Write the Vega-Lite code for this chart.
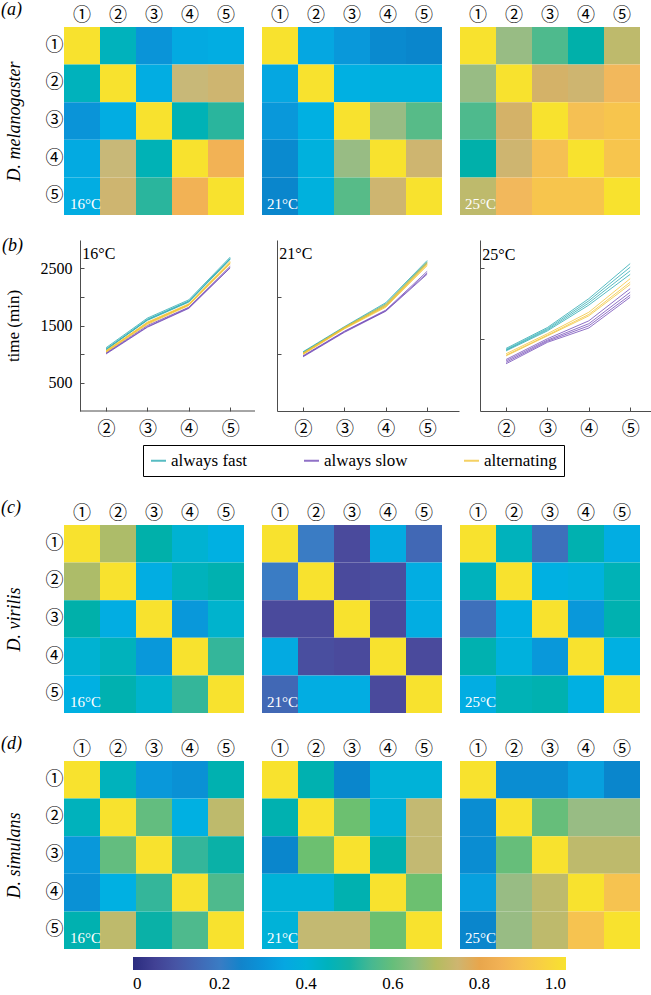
{
"$schema": "https://vega.github.io/schema/vega-lite/v6.json",
"background": "white",
"padding": {"left": 1, "top": 1, "right": 0, "bottom": 0},
"datasets": {
"a16": [{"c":1,"r":1,"v":1},{"c":2,"r":1,"v":0.45},{"c":3,"r":1,"v":0.30},{"c":4,"r":1,"v":0.36},{"c":5,"r":1,"v":0.37},
{"c":1,"r":2,"v":0.45},{"c":2,"r":2,"v":1},{"c":3,"r":2,"v":0.37},{"c":4,"r":2,"v":0.74},{"c":5,"r":2,"v":0.75},
{"c":1,"r":3,"v":0.30},{"c":2,"r":3,"v":0.37},{"c":3,"r":3,"v":1},{"c":4,"r":3,"v":0.46},{"c":5,"r":3,"v":0.52},
{"c":1,"r":4,"v":0.36},{"c":2,"r":4,"v":0.74},{"c":3,"r":4,"v":0.46},{"c":4,"r":4,"v":1},{"c":5,"r":4,"v":0.85},
{"c":1,"r":5,"v":0.37},{"c":2,"r":5,"v":0.75},{"c":3,"r":5,"v":0.52},{"c":4,"r":5,"v":0.85},{"c":5,"r":5,"v":1}],
"a21": [{"c":1,"r":1,"v":1},{"c":2,"r":1,"v":0.35},{"c":3,"r":1,"v":0.31},{"c":4,"r":1,"v":0.27},{"c":5,"r":1,"v":0.26},
{"c":1,"r":2,"v":0.35},{"c":2,"r":2,"v":1},{"c":3,"r":2,"v":0.38},{"c":4,"r":2,"v":0.39},{"c":5,"r":2,"v":0.39},
{"c":1,"r":3,"v":0.31},{"c":2,"r":3,"v":0.38},{"c":3,"r":3,"v":1},{"c":4,"r":3,"v":0.66},{"c":5,"r":3,"v":0.57},
{"c":1,"r":4,"v":0.27},{"c":2,"r":4,"v":0.39},{"c":3,"r":4,"v":0.66},{"c":4,"r":4,"v":1},{"c":5,"r":4,"v":0.75},
{"c":1,"r":5,"v":0.26},{"c":2,"r":5,"v":0.39},{"c":3,"r":5,"v":0.57},{"c":4,"r":5,"v":0.75},{"c":5,"r":5,"v":1}],
"a25": [{"c":1,"r":1,"v":1},{"c":2,"r":1,"v":0.66},{"c":3,"r":1,"v":0.56},{"c":4,"r":1,"v":0.48},{"c":5,"r":1,"v":0.72},
{"c":1,"r":2,"v":0.66},{"c":2,"r":2,"v":1},{"c":3,"r":2,"v":0.76},{"c":4,"r":2,"v":0.75},{"c":5,"r":2,"v":0.86},
{"c":1,"r":3,"v":0.56},{"c":2,"r":3,"v":0.76},{"c":3,"r":3,"v":1},{"c":4,"r":3,"v":0.89},{"c":5,"r":3,"v":0.91},
{"c":1,"r":4,"v":0.48},{"c":2,"r":4,"v":0.75},{"c":3,"r":4,"v":0.89},{"c":4,"r":4,"v":1},{"c":5,"r":4,"v":0.91},
{"c":1,"r":5,"v":0.72},{"c":2,"r":5,"v":0.86},{"c":3,"r":5,"v":0.91},{"c":4,"r":5,"v":0.91},{"c":5,"r":5,"v":1}],
"c16": [{"c":1,"r":1,"v":1},{"c":2,"r":1,"v":0.69},{"c":3,"r":1,"v":0.48},{"c":4,"r":1,"v":0.41},{"c":5,"r":1,"v":0.38},
{"c":1,"r":2,"v":0.69},{"c":2,"r":2,"v":1},{"c":3,"r":2,"v":0.37},{"c":4,"r":2,"v":0.45},{"c":5,"r":2,"v":0.47},
{"c":1,"r":3,"v":0.48},{"c":2,"r":3,"v":0.37},{"c":3,"r":3,"v":1},{"c":4,"r":3,"v":0.31},{"c":5,"r":3,"v":0.42},
{"c":1,"r":4,"v":0.41},{"c":2,"r":4,"v":0.45},{"c":3,"r":4,"v":0.31},{"c":4,"r":4,"v":1},{"c":5,"r":4,"v":0.53},
{"c":1,"r":5,"v":0.38},{"c":2,"r":5,"v":0.47},{"c":3,"r":5,"v":0.42},{"c":4,"r":5,"v":0.53},{"c":5,"r":5,"v":1}],
"c21": [{"c":1,"r":1,"v":1},{"c":2,"r":1,"v":0.20},{"c":3,"r":1,"v":0.07},{"c":4,"r":1,"v":0.36},{"c":5,"r":1,"v":0.15},
{"c":1,"r":2,"v":0.20},{"c":2,"r":2,"v":1},{"c":3,"r":2,"v":0.07},{"c":4,"r":2,"v":0.08},{"c":5,"r":2,"v":0.37},
{"c":1,"r":3,"v":0.07},{"c":2,"r":3,"v":0.07},{"c":3,"r":3,"v":1},{"c":4,"r":3,"v":0.07},{"c":5,"r":3,"v":0.37},
{"c":1,"r":4,"v":0.36},{"c":2,"r":4,"v":0.08},{"c":3,"r":4,"v":0.07},{"c":4,"r":4,"v":1},{"c":5,"r":4,"v":0.07},
{"c":1,"r":5,"v":0.15},{"c":2,"r":5,"v":0.37},{"c":3,"r":5,"v":0.37},{"c":4,"r":5,"v":0.07},{"c":5,"r":5,"v":1}],
"c25": [{"c":1,"r":1,"v":1},{"c":2,"r":1,"v":0.45},{"c":3,"r":1,"v":0.17},{"c":4,"r":1,"v":0.47},{"c":5,"r":1,"v":0.37},
{"c":1,"r":2,"v":0.45},{"c":2,"r":2,"v":1},{"c":3,"r":2,"v":0.38},{"c":4,"r":2,"v":0.39},{"c":5,"r":2,"v":0.46},
{"c":1,"r":3,"v":0.17},{"c":2,"r":3,"v":0.38},{"c":3,"r":3,"v":1},{"c":4,"r":3,"v":0.31},{"c":5,"r":3,"v":0.47},
{"c":1,"r":4,"v":0.47},{"c":2,"r":4,"v":0.39},{"c":3,"r":4,"v":0.31},{"c":4,"r":4,"v":1},{"c":5,"r":4,"v":0.38},
{"c":1,"r":5,"v":0.37},{"c":2,"r":5,"v":0.46},{"c":3,"r":5,"v":0.47},{"c":4,"r":5,"v":0.38},{"c":5,"r":5,"v":1}],
"d16": [{"c":1,"r":1,"v":1},{"c":2,"r":1,"v":0.45},{"c":3,"r":1,"v":0.31},{"c":4,"r":1,"v":0.29},{"c":5,"r":1,"v":0.47},
{"c":1,"r":2,"v":0.45},{"c":2,"r":2,"v":1},{"c":3,"r":2,"v":0.59},{"c":4,"r":2,"v":0.38},{"c":5,"r":2,"v":0.72},
{"c":1,"r":3,"v":0.31},{"c":2,"r":3,"v":0.59},{"c":3,"r":3,"v":1},{"c":4,"r":3,"v":0.53},{"c":5,"r":3,"v":0.49},
{"c":1,"r":4,"v":0.29},{"c":2,"r":4,"v":0.38},{"c":3,"r":4,"v":0.53},{"c":4,"r":4,"v":1},{"c":5,"r":4,"v":0.56},
{"c":1,"r":5,"v":0.47},{"c":2,"r":5,"v":0.72},{"c":3,"r":5,"v":0.49},{"c":4,"r":5,"v":0.56},{"c":5,"r":5,"v":1}],
"d21": [{"c":1,"r":1,"v":1},{"c":2,"r":1,"v":0.47},{"c":3,"r":1,"v":0.26},{"c":4,"r":1,"v":0.40},{"c":5,"r":1,"v":0.40},
{"c":1,"r":2,"v":0.47},{"c":2,"r":2,"v":1},{"c":3,"r":2,"v":0.62},{"c":4,"r":2,"v":0.40},{"c":5,"r":2,"v":0.73},
{"c":1,"r":3,"v":0.26},{"c":2,"r":3,"v":0.62},{"c":3,"r":3,"v":1},{"c":4,"r":3,"v":0.47},{"c":5,"r":3,"v":0.73},
{"c":1,"r":4,"v":0.40},{"c":2,"r":4,"v":0.40},{"c":3,"r":4,"v":0.47},{"c":4,"r":4,"v":1},{"c":5,"r":4,"v":0.62},
{"c":1,"r":5,"v":0.40},{"c":2,"r":5,"v":0.73},{"c":3,"r":5,"v":0.73},{"c":4,"r":5,"v":0.62},{"c":5,"r":5,"v":1}],
"d25": [{"c":1,"r":1,"v":1},{"c":2,"r":1,"v":0.28},{"c":3,"r":1,"v":0.28},{"c":4,"r":1,"v":0.33},{"c":5,"r":1,"v":0.26},
{"c":1,"r":2,"v":0.28},{"c":2,"r":2,"v":1},{"c":3,"r":2,"v":0.60},{"c":4,"r":2,"v":0.66},{"c":5,"r":2,"v":0.66},
{"c":1,"r":3,"v":0.28},{"c":2,"r":3,"v":0.60},{"c":3,"r":3,"v":1},{"c":4,"r":3,"v":0.72},{"c":5,"r":3,"v":0.72},
{"c":1,"r":4,"v":0.33},{"c":2,"r":4,"v":0.66},{"c":3,"r":4,"v":0.72},{"c":4,"r":4,"v":1},{"c":5,"r":4,"v":0.90},
{"c":1,"r":5,"v":0.26},{"c":2,"r":5,"v":0.66},{"c":3,"r":5,"v":0.72},{"c":4,"r":5,"v":0.90},{"c":5,"r":5,"v":1}],
"b16": [
{"s":"s1","g":"always slow","x":2,"t":1010},{"s":"s1","g":"always slow","x":3,"t":1480},{"s":"s1","g":"always slow","x":4,"t":1810},{"s":"s1","g":"always slow","x":5,"t":2520},
{"s":"s2","g":"always slow","x":2,"t":1020},{"s":"s2","g":"always slow","x":3,"t":1500},{"s":"s2","g":"always slow","x":4,"t":1820},{"s":"s2","g":"always slow","x":5,"t":2540},
{"s":"s3","g":"always slow","x":2,"t":1000},{"s":"s3","g":"always slow","x":3,"t":1470},{"s":"s3","g":"always slow","x":4,"t":1800},{"s":"s3","g":"always slow","x":5,"t":2510},
{"s":"f1","g":"always fast","x":2,"t":1110},{"s":"f1","g":"always fast","x":3,"t":1630},{"s":"f1","g":"always fast","x":4,"t":1950},{"s":"f1","g":"always fast","x":5,"t":2700},
{"s":"f2","g":"always fast","x":2,"t":1090},{"s":"f2","g":"always fast","x":3,"t":1610},{"s":"f2","g":"always fast","x":4,"t":1930},{"s":"f2","g":"always fast","x":5,"t":2680},
{"s":"f3","g":"always fast","x":2,"t":1080},{"s":"f3","g":"always fast","x":3,"t":1590},{"s":"f3","g":"always fast","x":4,"t":1910},{"s":"f3","g":"always fast","x":5,"t":2660},
{"s":"f4","g":"always fast","x":2,"t":1070},{"s":"f4","g":"always fast","x":3,"t":1600},{"s":"f4","g":"always fast","x":4,"t":1920},{"s":"f4","g":"always fast","x":5,"t":2670},
{"s":"y1","g":"alternating","x":2,"t":1050},{"s":"y1","g":"alternating","x":3,"t":1550},{"s":"y1","g":"alternating","x":4,"t":1870},{"s":"y1","g":"alternating","x":5,"t":2610},
{"s":"y2","g":"alternating","x":2,"t":1040},{"s":"y2","g":"alternating","x":3,"t":1540},{"s":"y2","g":"alternating","x":4,"t":1860},{"s":"y2","g":"alternating","x":5,"t":2600},
{"s":"y3","g":"alternating","x":2,"t":1060},{"s":"y3","g":"alternating","x":3,"t":1560},{"s":"y3","g":"alternating","x":4,"t":1880},{"s":"y3","g":"alternating","x":5,"t":2630},
{"s":"y4","g":"alternating","x":2,"t":1030},{"s":"y4","g":"alternating","x":3,"t":1520},{"s":"y4","g":"alternating","x":4,"t":1850},{"s":"y4","g":"alternating","x":5,"t":2580},
{"s":"y5","g":"alternating","x":2,"t":1045},{"s":"y5","g":"alternating","x":3,"t":1535},{"s":"y5","g":"alternating","x":4,"t":1865},{"s":"y5","g":"alternating","x":5,"t":2595}],
"b21": [
{"s":"s1","g":"always slow","x":2,"t":960},{"s":"s1","g":"always slow","x":3,"t":1390},{"s":"s1","g":"always slow","x":4,"t":1760},{"s":"s1","g":"always slow","x":5,"t":2420},
{"s":"s2","g":"always slow","x":2,"t":950},{"s":"s2","g":"always slow","x":3,"t":1380},{"s":"s2","g":"always slow","x":4,"t":1750},{"s":"s2","g":"always slow","x":5,"t":2400},
{"s":"s3","g":"always slow","x":2,"t":970},{"s":"s3","g":"always slow","x":3,"t":1400},{"s":"s3","g":"always slow","x":4,"t":1770},{"s":"s3","g":"always slow","x":5,"t":2450},
{"s":"f1","g":"always fast","x":2,"t":1040},{"s":"f1","g":"always fast","x":3,"t":1480},{"s":"f1","g":"always fast","x":4,"t":1900},{"s":"f1","g":"always fast","x":5,"t":2640},
{"s":"f2","g":"always fast","x":2,"t":1030},{"s":"f2","g":"always fast","x":3,"t":1470},{"s":"f2","g":"always fast","x":4,"t":1880},{"s":"f2","g":"always fast","x":5,"t":2620},
{"s":"f3","g":"always fast","x":2,"t":1020},{"s":"f3","g":"always fast","x":3,"t":1460},{"s":"f3","g":"always fast","x":4,"t":1860},{"s":"f3","g":"always fast","x":5,"t":2600},
{"s":"y1","g":"alternating","x":2,"t":1010},{"s":"y1","g":"alternating","x":3,"t":1460},{"s":"y1","g":"alternating","x":4,"t":1850},{"s":"y1","g":"alternating","x":5,"t":2590},
{"s":"y2","g":"alternating","x":2,"t":1000},{"s":"y2","g":"alternating","x":3,"t":1450},{"s":"y2","g":"alternating","x":4,"t":1840},{"s":"y2","g":"alternating","x":5,"t":2570},
{"s":"y3","g":"alternating","x":2,"t":1020},{"s":"y3","g":"alternating","x":3,"t":1470},{"s":"y3","g":"alternating","x":4,"t":1870},{"s":"y3","g":"alternating","x":5,"t":2610},
{"s":"y4","g":"alternating","x":2,"t":990},{"s":"y4","g":"alternating","x":3,"t":1440},{"s":"y4","g":"alternating","x":4,"t":1820},{"s":"y4","g":"alternating","x":5,"t":2550},
{"s":"y5","g":"alternating","x":2,"t":1005},{"s":"y5","g":"alternating","x":3,"t":1455},{"s":"y5","g":"alternating","x":4,"t":1835},{"s":"y5","g":"alternating","x":5,"t":2580}],
"b25": [
{"s":"s1","g":"always slow","x":2,"t":720},{"s":"s1","g":"always slow","x":3,"t":1010},{"s":"s1","g":"always slow","x":4,"t":1260},{"s":"s1","g":"always slow","x":5,"t":1710},
{"s":"s2","g":"always slow","x":2,"t":700},{"s":"s2","g":"always slow","x":3,"t":990},{"s":"s2","g":"always slow","x":4,"t":1220},{"s":"s2","g":"always slow","x":5,"t":1660},
{"s":"s3","g":"always slow","x":2,"t":680},{"s":"s3","g":"always slow","x":3,"t":975},{"s":"s3","g":"always slow","x":4,"t":1190},{"s":"s3","g":"always slow","x":5,"t":1620},
{"s":"s4","g":"always slow","x":2,"t":660},{"s":"s4","g":"always slow","x":3,"t":960},{"s":"s4","g":"always slow","x":4,"t":1160},{"s":"s4","g":"always slow","x":5,"t":1590},
{"s":"y1","g":"alternating","x":2,"t":800},{"s":"y1","g":"alternating","x":3,"t":1080},{"s":"y1","g":"alternating","x":4,"t":1380},{"s":"y1","g":"alternating","x":5,"t":1850},
{"s":"y2","g":"alternating","x":2,"t":780},{"s":"y2","g":"alternating","x":3,"t":1060},{"s":"y2","g":"alternating","x":4,"t":1350},{"s":"y2","g":"alternating","x":5,"t":1800},
{"s":"y3","g":"alternating","x":2,"t":770},{"s":"y3","g":"alternating","x":3,"t":1050},{"s":"y3","g":"alternating","x":4,"t":1330},{"s":"y3","g":"alternating","x":5,"t":1770},
{"s":"f1","g":"always fast","x":2,"t":875},{"s":"f1","g":"always fast","x":3,"t":1167},{"s":"f1","g":"always fast","x":4,"t":1570},{"s":"f1","g":"always fast","x":5,"t":2060},
{"s":"f2","g":"always fast","x":2,"t":860},{"s":"f2","g":"always fast","x":3,"t":1150},{"s":"f2","g":"always fast","x":4,"t":1540},{"s":"f2","g":"always fast","x":5,"t":2010},
{"s":"f3","g":"always fast","x":2,"t":850},{"s":"f3","g":"always fast","x":3,"t":1135},{"s":"f3","g":"always fast","x":4,"t":1510},{"s":"f3","g":"always fast","x":5,"t":1960},
{"s":"f4","g":"always fast","x":2,"t":840},{"s":"f4","g":"always fast","x":3,"t":1120},{"s":"f4","g":"always fast","x":4,"t":1480},{"s":"f4","g":"always fast","x":5,"t":1910}]
},
"concat": [
 {"hconcat": [
  {"width": 180, "height": 188, "title": {"text": "(a)", "dx": -63, "dy": 17},
   "data": {"name": "a16"},
   "layer": [
    {"mark": {"type": "rect"},
     "encoding": {
      "x": {"field": "c", "type": "ordinal", "scale": {"domain": [1,2,3,4,5], "paddingInner": 0, "paddingOuter": 0},
            "axis": {"orient": "top", "title": null, "domain": false, "ticks": false, "labelAngle": 0, "labelPadding": 3, "labelFont": "Noto Sans CJK JP", "labelFontSize": 18, "labelColor": "black", "labelExpr": "['①','②','③','④','⑤'][datum.value-1]"}},
      "y": {"field": "r", "type": "ordinal", "scale": {"domain": [1,2,3,4,5], "paddingInner": 0, "paddingOuter": 0},
            "axis": {"title": "D. melanogaster", "titleFont": "Liberation Serif", "titleFontStyle": "italic", "titleFontWeight": "normal", "titleFontSize": 18, "titlePadding": 22, "titleColor": "black", "domain": false, "ticks": false, "labelPadding": 1, "labelFont": "Noto Sans CJK JP", "labelFontSize": 18, "labelColor": "black", "labelExpr": "['①','②','③','④','⑤'][datum.value-1]"}},
      "color": {"field": "v", "type": "quantitative",
                "scale": {"type": "linear", "interpolate": "rgb", "domain": [0,0.07,0.14,0.2,0.26,0.3,0.34,0.38,0.43,0.48,0.53,0.58,0.62,0.66,0.7,0.74,0.78,0.82,0.86,0.92,1], "range": ["#2b2c7f","#4a4a9c","#4264b2","#3a7cc4","#0a86cc","#0a94d8","#06a4e0","#00b0e2","#00b4c8","#00b0aa","#34b69a","#60bc84","#6cc070","#98bc84","#b4bc60","#c8b878","#e0ac58","#f0a040","#f2b85c","#f8c84a","#f8e22e"]},
                "legend": {"orient": "none", "legendX": 69, "legendY": 930, "direction": "horizontal", "title": null, "gradientLength": 433, "gradientThickness": 13, "gradientStrokeWidth": 0, "values": [0,0.2,0.4,0.6,0.8,1], "labelExpr": "datum.value == 0 ? '0' : format(datum.value, '.1f')", "labelFont": "Liberation Serif", "labelFontSize": 17, "labelColor": "black", "labelAlign": "center", "labelOverlap": false, "labelOffset": 6, "padding": 0}}
     }},
    {"data": {"values": [{"c": 1, "r": 5, "t": "16°C"}]},
     "mark": {"type": "text", "align": "left", "baseline": "bottom", "dx": 6, "dy": -3, "color": "white", "fontSize": 15, "font": "Liberation Serif"},
     "encoding": {"x": {"field": "c", "type": "ordinal", "bandPosition": 0}, "y": {"field": "r", "type": "ordinal", "bandPosition": 1}, "text": {"field": "t"}}}
   ]},
  {"width": 180, "height": 188,
   "data": {"name": "a21"},
   "layer": [
    {"mark": {"type": "rect"},
     "encoding": {
      "x": {"field": "c", "type": "ordinal", "scale": {"domain": [1,2,3,4,5], "paddingInner": 0, "paddingOuter": 0},
            "axis": {"orient": "top", "title": null, "domain": false, "ticks": false, "labelAngle": 0, "labelPadding": 3, "labelFont": "Noto Sans CJK JP", "labelFontSize": 18, "labelColor": "black", "labelExpr": "['①','②','③','④','⑤'][datum.value-1]"}},
      "y": {"field": "r", "type": "ordinal", "scale": {"domain": [1,2,3,4,5], "paddingInner": 0, "paddingOuter": 0}, "axis": null},
      "color": {"field": "v", "type": "quantitative",
                "scale": {"type": "linear", "interpolate": "rgb", "domain": [0,0.07,0.14,0.2,0.26,0.3,0.34,0.38,0.43,0.48,0.53,0.58,0.62,0.66,0.7,0.74,0.78,0.82,0.86,0.92,1], "range": ["#2b2c7f","#4a4a9c","#4264b2","#3a7cc4","#0a86cc","#0a94d8","#06a4e0","#00b0e2","#00b4c8","#00b0aa","#34b69a","#60bc84","#6cc070","#98bc84","#b4bc60","#c8b878","#e0ac58","#f0a040","#f2b85c","#f8c84a","#f8e22e"]}}
     }},
    {"data": {"values": [{"c": 1, "r": 5, "t": "21°C"}]},
     "mark": {"type": "text", "align": "left", "baseline": "bottom", "dx": 5, "dy": -3, "color": "white", "fontSize": 15, "font": "Liberation Serif"},
     "encoding": {"x": {"field": "c", "type": "ordinal", "bandPosition": 0}, "y": {"field": "r", "type": "ordinal", "bandPosition": 1}, "text": {"field": "t"}}}
   ]},
  {"width": 180, "height": 188,
   "data": {"name": "a25"},
   "layer": [
    {"mark": {"type": "rect"},
     "encoding": {
      "x": {"field": "c", "type": "ordinal", "scale": {"domain": [1,2,3,4,5], "paddingInner": 0, "paddingOuter": 0},
            "axis": {"orient": "top", "title": null, "domain": false, "ticks": false, "labelAngle": 0, "labelPadding": 3, "labelFont": "Noto Sans CJK JP", "labelFontSize": 18, "labelColor": "black", "labelExpr": "['①','②','③','④','⑤'][datum.value-1]"}},
      "y": {"field": "r", "type": "ordinal", "scale": {"domain": [1,2,3,4,5], "paddingInner": 0, "paddingOuter": 0}, "axis": null},
      "color": {"field": "v", "type": "quantitative",
                "scale": {"type": "linear", "interpolate": "rgb", "domain": [0,0.07,0.14,0.2,0.26,0.3,0.34,0.38,0.43,0.48,0.53,0.58,0.62,0.66,0.7,0.74,0.78,0.82,0.86,0.92,1], "range": ["#2b2c7f","#4a4a9c","#4264b2","#3a7cc4","#0a86cc","#0a94d8","#06a4e0","#00b0e2","#00b4c8","#00b0aa","#34b69a","#60bc84","#6cc070","#98bc84","#b4bc60","#c8b878","#e0ac58","#f0a040","#f2b85c","#f8c84a","#f8e22e"]}}
     }},
    {"data": {"values": [{"c": 1, "r": 5, "t": "25°C"}]},
     "mark": {"type": "text", "align": "left", "baseline": "bottom", "dx": 5, "dy": -3, "color": "white", "fontSize": 15, "font": "Liberation Serif"},
     "encoding": {"x": {"field": "c", "type": "ordinal", "bandPosition": 0}, "y": {"field": "r", "type": "ordinal", "bandPosition": 1}, "text": {"field": "t"}}}
   ]}
 ], "spacing": 18},
 {"hconcat": [
  {"width": 191, "height": 171, "title": {"text": "(b)", "dx": -62, "dy": 19},
   "layer": [
    {"data": {"name": "b16"},
     "mark": {"type": "line", "strokeWidth": 1, "opacity": 0.75},
     "encoding": {
      "x": {"field": "x", "type": "quantitative", "scale": {"domain": [0.9835, 5.6], "nice": false, "zero": false},
            "axis": {"title": null, "values": [2,3,4,5], "domain": false, "labelExpr": "['','','②','③','④','⑤'][datum.value]", "labelFont": "Noto Sans CJK JP", "labelFontSize": 18, "labelColor": "black", "tickSize": -4, "labelPadding": 13, "tickColor": "#4d4d4d", "grid": false}},
      "y": {"field": "t", "type": "quantitative", "scale": {"domain": [0, 3000], "nice": false},
            "axis": {"offset": -16, "title": "time (min)", "titleFont": "Liberation Serif", "titleFontSize": 17, "titleFontWeight": "normal", "titleColor": "black", "titlePadding": 18, "values": [500,1000,1500,2000,2500], "labelExpr": "datum.value % 1000 == 500 ? format(datum.value, 'd') : ''", "labelFont": "Liberation Serif", "labelFontSize": 16, "labelColor": "black", "tickSize": -4, "labelPadding": 12, "domainColor": "#4d4d4d", "tickColor": "#4d4d4d", "grid": false}},
      "stroke": {"field": "g", "type": "nominal", "scale": {"domain": ["always fast", "always slow", "alternating"], "range": ["#1fa6ae", "#6b42b4", "#f2c230"]},
                 "legend": {"orient": "none", "legendX": 79, "legendY": 205, "direction": "horizontal", "title": null, "symbolType": "stroke", "symbolSize": 225, "symbolStrokeWidth": 2, "symbolOpacity": 1, "labelFont": "Liberation Serif", "labelFontSize": 17, "labelColor": "black", "strokeColor": "black", "padding": 7, "columnPadding": 52, "labelOffset": 4}},
      "detail": {"field": "s"}
     }},
    {"data": {"values": [{"a": 1.37, "b": 5.6, "z": 0}]},
     "mark": {"type": "rule", "color": "#4d4d4d", "strokeWidth": 1},
     "encoding": {"x": {"field": "a", "type": "quantitative"}, "x2": {"field": "b"}, "y": {"field": "z", "type": "quantitative"}}},
    {"data": {"values": [{"t": "16°C"}]},
     "mark": {"type": "text", "align": "left", "baseline": "top", "dx": 1, "fontSize": 16, "font": "Liberation Serif", "color": "black"},
     "encoding": {"x": {"datum": 1.4, "type": "quantitative"}, "y": {"datum": 2900, "type": "quantitative"}, "text": {"field": "t"}}}
   ]},
  {"width": 182, "height": 171,
   "layer": [
    {"data": {"name": "b21"},
     "mark": {"type": "line", "strokeWidth": 1, "opacity": 0.75},
     "encoding": {
      "x": {"field": "x", "type": "quantitative", "scale": {"domain": [1.37, 5.77], "nice": false, "zero": false},
            "axis": {"title": null, "values": [2,3,4,5], "labelExpr": "['','','②','③','④','⑤'][datum.value]", "labelFont": "Noto Sans CJK JP", "labelFontSize": 18, "labelColor": "black", "tickSize": -4, "labelPadding": 13, "domainColor": "#4d4d4d", "tickColor": "#4d4d4d", "grid": false}},
      "y": {"field": "t", "type": "quantitative", "scale": {"domain": [0, 3000], "nice": false},
            "axis": {"title": null, "values": [1000,2000], "labels": false, "tickSize": -4, "domainColor": "#4d4d4d", "tickColor": "#4d4d4d", "grid": false}},
      "stroke": {"field": "g", "type": "nominal", "scale": {"domain": ["always fast", "always slow", "alternating"], "range": ["#1fa6ae", "#6b42b4", "#f2c230"]}},
      "detail": {"field": "s"}
     }},
    {"data": {"values": [{"t": "21°C"}]},
     "mark": {"type": "text", "align": "left", "baseline": "top", "dx": 1, "fontSize": 16, "font": "Liberation Serif", "color": "black"},
     "encoding": {"x": {"datum": 1.4, "type": "quantitative"}, "y": {"datum": 2900, "type": "quantitative"}, "text": {"field": "t"}}}
   ]},
  {"width": 175, "height": 171,
   "layer": [
    {"data": {"name": "b25"},
     "mark": {"type": "line", "strokeWidth": 1, "opacity": 0.75},
     "encoding": {
      "x": {"field": "x", "type": "quantitative", "scale": {"domain": [1.37, 5.6], "nice": false, "zero": false},
            "axis": {"title": null, "values": [2,3,4,5], "labelExpr": "['','','②','③','④','⑤'][datum.value]", "labelFont": "Noto Sans CJK JP", "labelFontSize": 18, "labelColor": "black", "tickSize": -4, "labelPadding": 13, "domainColor": "#4d4d4d", "tickColor": "#4d4d4d", "grid": false}},
      "y": {"field": "t", "type": "quantitative", "scale": {"domain": [0, 2390], "nice": false},
            "axis": {"title": null, "values": [1000,2000], "labels": false, "tickSize": -4, "domainColor": "#4d4d4d", "tickColor": "#4d4d4d", "grid": false}},
      "stroke": {"field": "g", "type": "nominal", "scale": {"domain": ["always fast", "always slow", "alternating"], "range": ["#1fa6ae", "#6b42b4", "#f2c230"]}},
      "detail": {"field": "s"}
     }},
    {"data": {"values": [{"t": "25°C"}]},
     "mark": {"type": "text", "align": "left", "baseline": "top", "dx": 1, "fontSize": 16, "font": "Liberation Serif", "color": "black"},
     "encoding": {"x": {"datum": 1.4, "type": "quantitative"}, "y": {"datum": 2290, "type": "quantitative"}, "text": {"field": "t"}}}
   ]}
 ], "spacing": 20},
 {"hconcat": [
  {"width": 180, "height": 188, "title": {"text": "(c)", "dx": -63, "dy": 17},
   "data": {"name": "c16"},
   "layer": [
    {"mark": {"type": "rect"},
     "encoding": {
      "x": {"field": "c", "type": "ordinal", "scale": {"domain": [1,2,3,4,5], "paddingInner": 0, "paddingOuter": 0},
            "axis": {"orient": "top", "title": null, "domain": false, "ticks": false, "labelAngle": 0, "labelPadding": 3, "labelFont": "Noto Sans CJK JP", "labelFontSize": 18, "labelColor": "black", "labelExpr": "['①','②','③','④','⑤'][datum.value-1]"}},
      "y": {"field": "r", "type": "ordinal", "scale": {"domain": [1,2,3,4,5], "paddingInner": 0, "paddingOuter": 0},
            "axis": {"title": "D. virilis", "titleFont": "Liberation Serif", "titleFontStyle": "italic", "titleFontWeight": "normal", "titleFontSize": 18, "titlePadding": 22, "titleColor": "black", "domain": false, "ticks": false, "labelPadding": 1, "labelFont": "Noto Sans CJK JP", "labelFontSize": 18, "labelColor": "black", "labelExpr": "['①','②','③','④','⑤'][datum.value-1]"}},
      "color": {"field": "v", "type": "quantitative",
                "scale": {"type": "linear", "interpolate": "rgb", "domain": [0,0.07,0.14,0.2,0.26,0.3,0.34,0.38,0.43,0.48,0.53,0.58,0.62,0.66,0.7,0.74,0.78,0.82,0.86,0.92,1], "range": ["#2b2c7f","#4a4a9c","#4264b2","#3a7cc4","#0a86cc","#0a94d8","#06a4e0","#00b0e2","#00b4c8","#00b0aa","#34b69a","#60bc84","#6cc070","#98bc84","#b4bc60","#c8b878","#e0ac58","#f0a040","#f2b85c","#f8c84a","#f8e22e"]}}
     }},
    {"data": {"values": [{"c": 1, "r": 5, "t": "16°C"}]},
     "mark": {"type": "text", "align": "left", "baseline": "bottom", "dx": 6, "dy": -3, "color": "white", "fontSize": 15, "font": "Liberation Serif"},
     "encoding": {"x": {"field": "c", "type": "ordinal", "bandPosition": 0}, "y": {"field": "r", "type": "ordinal", "bandPosition": 1}, "text": {"field": "t"}}}
   ]},
  {"width": 180, "height": 188,
   "data": {"name": "c21"},
   "layer": [
    {"mark": {"type": "rect"},
     "encoding": {
      "x": {"field": "c", "type": "ordinal", "scale": {"domain": [1,2,3,4,5], "paddingInner": 0, "paddingOuter": 0},
            "axis": {"orient": "top", "title": null, "domain": false, "ticks": false, "labelAngle": 0, "labelPadding": 3, "labelFont": "Noto Sans CJK JP", "labelFontSize": 18, "labelColor": "black", "labelExpr": "['①','②','③','④','⑤'][datum.value-1]"}},
      "y": {"field": "r", "type": "ordinal", "scale": {"domain": [1,2,3,4,5], "paddingInner": 0, "paddingOuter": 0}, "axis": null},
      "color": {"field": "v", "type": "quantitative",
                "scale": {"type": "linear", "interpolate": "rgb", "domain": [0,0.07,0.14,0.2,0.26,0.3,0.34,0.38,0.43,0.48,0.53,0.58,0.62,0.66,0.7,0.74,0.78,0.82,0.86,0.92,1], "range": ["#2b2c7f","#4a4a9c","#4264b2","#3a7cc4","#0a86cc","#0a94d8","#06a4e0","#00b0e2","#00b4c8","#00b0aa","#34b69a","#60bc84","#6cc070","#98bc84","#b4bc60","#c8b878","#e0ac58","#f0a040","#f2b85c","#f8c84a","#f8e22e"]}}
     }},
    {"data": {"values": [{"c": 1, "r": 5, "t": "21°C"}]},
     "mark": {"type": "text", "align": "left", "baseline": "bottom", "dx": 5, "dy": -3, "color": "white", "fontSize": 15, "font": "Liberation Serif"},
     "encoding": {"x": {"field": "c", "type": "ordinal", "bandPosition": 0}, "y": {"field": "r", "type": "ordinal", "bandPosition": 1}, "text": {"field": "t"}}}
   ]},
  {"width": 180, "height": 188,
   "data": {"name": "c25"},
   "layer": [
    {"mark": {"type": "rect"},
     "encoding": {
      "x": {"field": "c", "type": "ordinal", "scale": {"domain": [1,2,3,4,5], "paddingInner": 0, "paddingOuter": 0},
            "axis": {"orient": "top", "title": null, "domain": false, "ticks": false, "labelAngle": 0, "labelPadding": 3, "labelFont": "Noto Sans CJK JP", "labelFontSize": 18, "labelColor": "black", "labelExpr": "['①','②','③','④','⑤'][datum.value-1]"}},
      "y": {"field": "r", "type": "ordinal", "scale": {"domain": [1,2,3,4,5], "paddingInner": 0, "paddingOuter": 0}, "axis": null},
      "color": {"field": "v", "type": "quantitative",
                "scale": {"type": "linear", "interpolate": "rgb", "domain": [0,0.07,0.14,0.2,0.26,0.3,0.34,0.38,0.43,0.48,0.53,0.58,0.62,0.66,0.7,0.74,0.78,0.82,0.86,0.92,1], "range": ["#2b2c7f","#4a4a9c","#4264b2","#3a7cc4","#0a86cc","#0a94d8","#06a4e0","#00b0e2","#00b4c8","#00b0aa","#34b69a","#60bc84","#6cc070","#98bc84","#b4bc60","#c8b878","#e0ac58","#f0a040","#f2b85c","#f8c84a","#f8e22e"]}}
     }},
    {"data": {"values": [{"c": 1, "r": 5, "t": "25°C"}]},
     "mark": {"type": "text", "align": "left", "baseline": "bottom", "dx": 5, "dy": -3, "color": "white", "fontSize": 15, "font": "Liberation Serif"},
     "encoding": {"x": {"field": "c", "type": "ordinal", "bandPosition": 0}, "y": {"field": "r", "type": "ordinal", "bandPosition": 1}, "text": {"field": "t"}}}
   ]}
 ], "spacing": 18},
 {"hconcat": [
  {"width": 180, "height": 188, "title": {"text": "(d)", "dx": -63, "dy": 17},
   "data": {"name": "d16"},
   "layer": [
    {"mark": {"type": "rect"},
     "encoding": {
      "x": {"field": "c", "type": "ordinal", "scale": {"domain": [1,2,3,4,5], "paddingInner": 0, "paddingOuter": 0},
            "axis": {"orient": "top", "title": null, "domain": false, "ticks": false, "labelAngle": 0, "labelPadding": 3, "labelFont": "Noto Sans CJK JP", "labelFontSize": 18, "labelColor": "black", "labelExpr": "['①','②','③','④','⑤'][datum.value-1]"}},
      "y": {"field": "r", "type": "ordinal", "scale": {"domain": [1,2,3,4,5], "paddingInner": 0, "paddingOuter": 0},
            "axis": {"title": "D. simulans", "titleFont": "Liberation Serif", "titleFontStyle": "italic", "titleFontWeight": "normal", "titleFontSize": 18, "titlePadding": 22, "titleColor": "black", "domain": false, "ticks": false, "labelPadding": 1, "labelFont": "Noto Sans CJK JP", "labelFontSize": 18, "labelColor": "black", "labelExpr": "['①','②','③','④','⑤'][datum.value-1]"}},
      "color": {"field": "v", "type": "quantitative",
                "scale": {"type": "linear", "interpolate": "rgb", "domain": [0,0.07,0.14,0.2,0.26,0.3,0.34,0.38,0.43,0.48,0.53,0.58,0.62,0.66,0.7,0.74,0.78,0.82,0.86,0.92,1], "range": ["#2b2c7f","#4a4a9c","#4264b2","#3a7cc4","#0a86cc","#0a94d8","#06a4e0","#00b0e2","#00b4c8","#00b0aa","#34b69a","#60bc84","#6cc070","#98bc84","#b4bc60","#c8b878","#e0ac58","#f0a040","#f2b85c","#f8c84a","#f8e22e"]}}
     }},
    {"data": {"values": [{"c": 1, "r": 5, "t": "16°C"}]},
     "mark": {"type": "text", "align": "left", "baseline": "bottom", "dx": 6, "dy": -3, "color": "white", "fontSize": 15, "font": "Liberation Serif"},
     "encoding": {"x": {"field": "c", "type": "ordinal", "bandPosition": 0}, "y": {"field": "r", "type": "ordinal", "bandPosition": 1}, "text": {"field": "t"}}}
   ]},
  {"width": 180, "height": 188,
   "data": {"name": "d21"},
   "layer": [
    {"mark": {"type": "rect"},
     "encoding": {
      "x": {"field": "c", "type": "ordinal", "scale": {"domain": [1,2,3,4,5], "paddingInner": 0, "paddingOuter": 0},
            "axis": {"orient": "top", "title": null, "domain": false, "ticks": false, "labelAngle": 0, "labelPadding": 3, "labelFont": "Noto Sans CJK JP", "labelFontSize": 18, "labelColor": "black", "labelExpr": "['①','②','③','④','⑤'][datum.value-1]"}},
      "y": {"field": "r", "type": "ordinal", "scale": {"domain": [1,2,3,4,5], "paddingInner": 0, "paddingOuter": 0}, "axis": null},
      "color": {"field": "v", "type": "quantitative",
                "scale": {"type": "linear", "interpolate": "rgb", "domain": [0,0.07,0.14,0.2,0.26,0.3,0.34,0.38,0.43,0.48,0.53,0.58,0.62,0.66,0.7,0.74,0.78,0.82,0.86,0.92,1], "range": ["#2b2c7f","#4a4a9c","#4264b2","#3a7cc4","#0a86cc","#0a94d8","#06a4e0","#00b0e2","#00b4c8","#00b0aa","#34b69a","#60bc84","#6cc070","#98bc84","#b4bc60","#c8b878","#e0ac58","#f0a040","#f2b85c","#f8c84a","#f8e22e"]}}
     }},
    {"data": {"values": [{"c": 1, "r": 5, "t": "21°C"}]},
     "mark": {"type": "text", "align": "left", "baseline": "bottom", "dx": 5, "dy": -3, "color": "white", "fontSize": 15, "font": "Liberation Serif"},
     "encoding": {"x": {"field": "c", "type": "ordinal", "bandPosition": 0}, "y": {"field": "r", "type": "ordinal", "bandPosition": 1}, "text": {"field": "t"}}}
   ]},
  {"width": 180, "height": 188,
   "data": {"name": "d25"},
   "layer": [
    {"mark": {"type": "rect"},
     "encoding": {
      "x": {"field": "c", "type": "ordinal", "scale": {"domain": [1,2,3,4,5], "paddingInner": 0, "paddingOuter": 0},
            "axis": {"orient": "top", "title": null, "domain": false, "ticks": false, "labelAngle": 0, "labelPadding": 3, "labelFont": "Noto Sans CJK JP", "labelFontSize": 18, "labelColor": "black", "labelExpr": "['①','②','③','④','⑤'][datum.value-1]"}},
      "y": {"field": "r", "type": "ordinal", "scale": {"domain": [1,2,3,4,5], "paddingInner": 0, "paddingOuter": 0}, "axis": null},
      "color": {"field": "v", "type": "quantitative",
                "scale": {"type": "linear", "interpolate": "rgb", "domain": [0,0.07,0.14,0.2,0.26,0.3,0.34,0.38,0.43,0.48,0.53,0.58,0.62,0.66,0.7,0.74,0.78,0.82,0.86,0.92,1], "range": ["#2b2c7f","#4a4a9c","#4264b2","#3a7cc4","#0a86cc","#0a94d8","#06a4e0","#00b0e2","#00b4c8","#00b0aa","#34b69a","#60bc84","#6cc070","#98bc84","#b4bc60","#c8b878","#e0ac58","#f0a040","#f2b85c","#f8c84a","#f8e22e"]}}
     }},
    {"data": {"values": [{"c": 1, "r": 5, "t": "25°C"}]},
     "mark": {"type": "text", "align": "left", "baseline": "bottom", "dx": 5, "dy": -3, "color": "white", "fontSize": 15, "font": "Liberation Serif"},
     "encoding": {"x": {"field": "c", "type": "ordinal", "bandPosition": 0}, "y": {"field": "r", "type": "ordinal", "bandPosition": 1}, "text": {"field": "t"}}}
   ]}
 ], "spacing": 18}
],
"columns": 1,
"align": "none",
"spacing": 22,
"resolve": {"scale": {"stroke": "independent"}},
"config": {
 "view": {"stroke": null},
 "font": "Liberation Serif",
 "title": {"font": "Liberation Serif", "fontSize": 18, "fontWeight": "normal", "fontStyle": "italic", "anchor": "start", "frame": "group", "color": "black", "offset": 0},
 "axis": {"grid": false}
}
}
